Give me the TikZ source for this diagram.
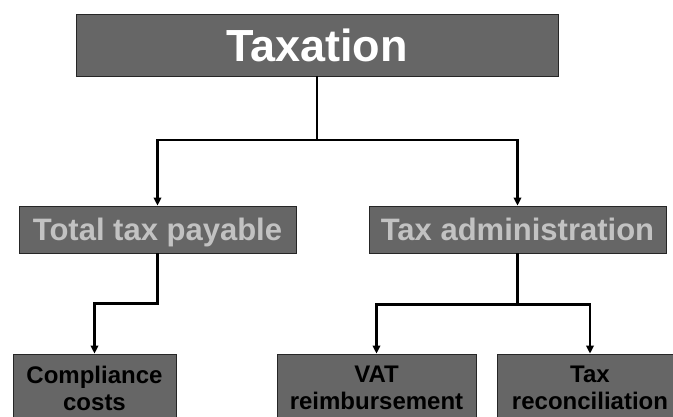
\documentclass[tikz,border=0pt]{standalone}
\usepackage{fontspec}
\setmainfont{Liberation Sans}
\usetikzlibrary{arrows.meta}
\definecolor{boxgrey}{HTML}{666666}
\definecolor{labelgrey}{HTML}{C2C2C2}
\tikzset{
	orgbox/.style={draw=black!85, line width=0.8pt, fill=boxgrey, inner sep=0pt, align=center},
	toplabel/.style={orgbox, text=white, text depth=0pt, font=\bfseries\fontsize{45}{50}\selectfont},
	midlabel/.style={orgbox, text=labelgrey, text depth=0pt, font=\bfseries\fontsize{31}{36}\selectfont},
	lowlabel/.style={orgbox, text=black, minimum height=68pt, font=\bfseries\fontsize{24}{27}\selectfont},
	stem/.style={line width=2.6pt},
	branch/.style={line width=2.6pt, -{Triangle[length=8pt,width=7.5pt]}}
}

\begin{document}
\begin{tikzpicture}[x=1pt, y=-1pt]
		%%%%% START %%%%%
		\useasboundingbox (0, 0) rectangle (673, 416);
		\clip (0, 0) rectangle (673, 416);
		
		\node[toplabel, minimum width=482pt, minimum height=62pt] (tax) at (317, 45) {Taxation};
		
		\node[midlabel, minimum width=277pt, minimum height=47pt] (tot) at (157.5, 229.5) {Total tax payable};
		\node[midlabel, minimum width=297pt, minimum height=47pt] (adm) at (517.5, 229.5) {Tax administration};
		
		\node[lowlabel, minimum width=163pt] (cmp) at (94.5, 388) {Compliance\\costs};
		\node[lowlabel, minimum width=199pt] (vat) at (376.5, 388) {VAT\\reimbursement};
		\node[lowlabel, minimum width=186pt] (rec) at (590, 388) {Tax\\reconciliation};
		
		\coordinate (split) at (317, 140);
		\draw[line width=1.2pt] (tax) -- (split);
		\draw[branch] (split) -| (tot.north);
		\draw[branch] (split) -| (adm.north);
		
		\draw[branch] (tot.south) -- ++(0, 50) -| (cmp.north);
		
		\draw[stem] (adm.south) -- ++(0, 51) coordinate (fork);
		\draw[branch] (fork) -| (vat.north);
		\draw[branch] (fork) -| (rec.north);
		
		%%%%% END %%%%%
\end{tikzpicture}
\end{document}
